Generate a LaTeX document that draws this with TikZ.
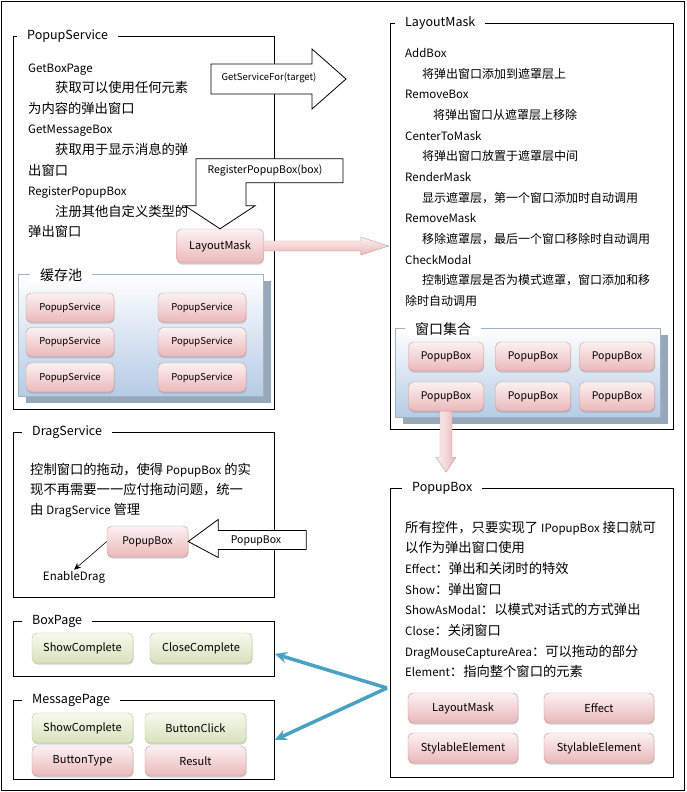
\documentclass[tikz,border=0pt]{standalone}
\usepackage{fontspec}
\setmainfont{Noto Sans CJK SC}
\usetikzlibrary{arrows.meta,shadows}

\definecolor{pinktop}{HTML}{FCF1F1}
\definecolor{pinkbot}{HTML}{EBB8BA}
\definecolor{pinkline}{HTML}{C49A9C}
\definecolor{greentop}{HTML}{F7F9EE}
\definecolor{greenbot}{HTML}{D6E2BB}
\definecolor{greenline}{HTML}{B3C19B}
\definecolor{poolbot}{HTML}{B5CBE5}
\definecolor{poolline}{HTML}{9FB3C7}
\definecolor{poolshadow}{HTML}{97A8BA}
\definecolor{tealarrow}{HTML}{47A2C3}

\newcommand{\eng}[1]{{\fontsize{11.5}{13}\selectfont #1}}

\begin{document}
\begin{tikzpicture}[
  x=1pt, y=-1pt,
  grp/.style={draw, line width=0.8pt, inner sep=0pt, anchor=north west},
  grptitle/.style={fill=white, inner xsep=10pt, inner ysep=1pt, anchor=west, font=\fontsize{12.5}{14}\selectfont},
  txt/.style={anchor=base west, inner sep=0pt, font=\fontsize{13.3}{15}\selectfont},
  pool/.style={draw=poolline, top color=white, bottom color=poolbot, inner sep=0pt, anchor=north west,
    drop shadow={shadow xshift=8pt, shadow yshift=-7pt, fill=poolshadow, opacity=1}},
  pinkbox/.style={draw=pinkline, rounded corners=5pt, top color=pinktop, bottom color=pinkbot, inner sep=0pt,
    drop shadow={shadow xshift=0.5pt, shadow yshift=-1.5pt, fill=black!45, opacity=0.4}},
  greenbox/.style={pinkbox, draw=greenline, top color=greentop, bottom color=greenbot},
  hollow/.style={draw, line width=0.8pt, fill=white},
  link/.style={draw=tealarrow, line width=3.5pt, -{Stealth[length=12pt, width=11pt]}}
]
\useasboundingbox (0,0) rectangle (686,792);
\draw[line width=0.8pt] (1,1) rectangle (684,790);

% PopupService
\node[grp, minimum width=261pt, minimum height=373pt] (ps) at (13,36) {};
\node[grptitle] (ps-t) at (17,36) {PopupService};
\foreach \t [count=\i from 0] in {\eng{GetBoxPage}, {\hspace*{27pt}获取可以使用任何元素}, 为内容的弹出窗口, \eng{GetMessageBox}, {\hspace*{27pt}获取用于显示消息的弹}, 出窗口, \eng{RegisterPopupBox}, {\hspace*{27pt}注册其他自定义类型的}, 弹出窗口}
  \node[txt] (ps-\i) at (28,72+20.6*\i) {\t};

\node[pool, minimum width=245pt, minimum height=122pt] (pool) at (18,274) {};
\node[grptitle, font=\fontsize{14}{16}\selectfont] (pool-t) at (30,275) {缓存池};
\foreach \c/\x in {0/70, 1/202}
  \foreach \r/\y in {0/307.5, 1/342, 2/377.5}
    \node[pinkbox, minimum width=88pt, minimum height=29pt, font=\fontsize{9.5}{11}\selectfont] (pool-\c\r) at (\x,\y) {PopupService};

\draw[hollow] (211,64) -- (312,64) -- (312,49) -- (346,79) -- (312,109) -- (312,94) -- (211,94) -- cycle;
\node[font=\fontsize{9.5}{11}\selectfont] (gsf) at (269,78) {GetServiceFor(target)};

\node[pinkbox, minimum width=87pt, minimum height=34pt, font=\fontsize{11}{13}\selectfont] (lm) at (220,246) {LayoutMask};
\draw[hollow] (lm.north) -- ++(-35,-23) -- ++(11,0) -- ++(0,-47) -- ++(147,0) -- ++(0,24) -- ++(-97,0) -- ++(0,23) -- ++(9,0) -- cycle;
\node[font=\fontsize{10.5}{12}\selectfont] (reg) at (265,171) {RegisterPopupBox(box)};
\path[draw=pinkline, top color=pinktop, bottom color=pinkbot] (lm.east) ++(0,-5) -- ++(97,0) -- ++(0,-4) -- ++(28,9) -- ++(-28,9) -- ++(0,-4) -- ++(-97,0) -- cycle;

% DragService
\node[grp, minimum width=261pt, minimum height=165pt] (ds) at (13,432) {};
\node[grptitle] (ds-t) at (22,432) {DragService};
\foreach \t [count=\i from 0] in {控制窗口的拖动，使得 \eng{PopupBox} 的实, 现不再需要一一应付拖动问题，统一, 由 \eng{DragService} 管理}
  \node[txt] (ds-\i) at (30,474+20*\i) {\t};
\node[pinkbox, minimum width=81pt, minimum height=31pt, font=\fontsize{10.5}{12}\selectfont] (dpb) at (147.5,541.5) {PopupBox};
\draw[hollow] (dpb.east) -- ++(30,-22) -- ++(0,11) -- ++(88,0) -- ++(0,19) -- ++(-88,0) -- ++(0,8) -- cycle;
\node[font=\fontsize{10.5}{12}\selectfont] (dpb-in) at (256,541) {PopupBox};
\node[font=\fontsize{11.5}{13}\selectfont, inner sep=1pt] (ed) at (74,577) {EnableDrag};
\draw[-{Stealth[length=7pt, width=6pt]}, line width=0.6pt] (dpb.west) -- (ed.north);

% BoxPage / MessagePage
\node[grp, minimum width=261pt, minimum height=55pt] (bp) at (13,621) {};
\node[grptitle] (bp-t) at (22,621) {BoxPage};
\node[greenbox, minimum width=101pt, minimum height=30pt, font=\fontsize{11}{13}\selectfont] (bp-1) at (82.5,648) {ShowComplete};
\node[greenbox, minimum width=102pt, minimum height=30pt, font=\fontsize{11}{13}\selectfont] (bp-2) at (201,648) {CloseComplete};

\node[grp, minimum width=261pt, minimum height=79pt] (mp) at (13,700) {};
\node[grptitle] (mp-t) at (22,700) {MessagePage};
\node[greenbox, minimum width=101pt, minimum height=30pt, font=\fontsize{11}{13}\selectfont] (mp-1) at (82.5,728) {ShowComplete};
\node[greenbox, minimum width=101pt, minimum height=30pt, font=\fontsize{11}{13}\selectfont] (mp-2) at (195.5,728) {ButtonClick};
\node[pinkbox, minimum width=101pt, minimum height=30pt, font=\fontsize{11}{13}\selectfont] (mp-3) at (82.5,761) {ButtonType};
\node[pinkbox, minimum width=101pt, minimum height=30pt, font=\fontsize{11}{13}\selectfont] (mp-4) at (195.5,761) {Result};

% LayoutMask
\node[grp, minimum width=283pt, minimum height=406pt] (lmg) at (390,23) {};
\node[grptitle] (lmg-t) at (395,23) {LayoutMask};
\foreach \t/\dx [count=\i from 0] in {\eng{AddBox}/0, 将弹出窗口添加到遮罩层上/17, \eng{RemoveBox}/0, 将弹出窗口从遮罩层上移除/28, \eng{CenterToMask}/0, 将弹出窗口放置于遮罩层中间/17, \eng{RenderMask}/0, 显示遮罩层，第一个窗口添加时自动调用/17, \eng{RemoveMask}/0, 移除遮罩层，最后一个窗口移除时自动调用/17, \eng{CheckModal}/0, 控制遮罩层是否为模式遮罩，窗口添加和移/17, 除时自动调用/0}
  \node[txt, font=\fontsize{12}{14}\selectfont] (lmg-\i) at (405+\dx,57.5+20.65*\i) {\t};

\node[pool, minimum width=265pt, minimum height=89pt] (win) at (395,328) {};
\node[grptitle, font=\fontsize{14}{16}\selectfont] (win-t) at (405,329) {窗口集合};
\foreach \c/\x in {0/446, 1/533, 2/617}
  \foreach \r/\y in {0/356.5, 1/396.5}
    \node[pinkbox, minimum width=75pt, minimum height=29pt, font=\fontsize{10.5}{12}\selectfont] (win-\c\r) at (\x,\y) {PopupBox};
\path[draw=pinkline, left color=pinktop, right color=pinkbot] (win-01.south) ++(-6,0) -- ++(0,46) -- ++(-4,0) -- ++(10,15) -- ++(10,-15) -- ++(-4,0) -- ++(0,-46) -- cycle;

% PopupBox
\node[grp, minimum width=283pt, minimum height=289pt] (pbg) at (390,488) {};
\node[grptitle] (pbg-t) at (402,488) {PopupBox};
\foreach \t [count=\i from 0] in {所有控件，只要实现了 \eng{IPopupBox} 接口就可, 以作为弹出窗口使用, \eng{Effect}：弹出和关闭时的特效, \eng{Show}：弹出窗口, \eng{ShowAsModal}：以模式对话式的方式弹出, \eng{Close}：关闭窗口, \eng{DragMouseCaptureArea}：可以拖动的部分, \eng{Element}：指向整个窗口的元素}
  \node[txt] (pbg-\i) at (405,532+20.7*\i) {\t};
\node[pinkbox, minimum width=110pt, minimum height=30pt, font=\fontsize{11}{13}\selectfont] (pbg-lm) at (463,708) {LayoutMask};
\node[pinkbox, minimum width=110pt, minimum height=30pt, font=\fontsize{11}{13}\selectfont] (pbg-ef) at (599,708) {Effect};
\node[pinkbox, minimum width=110pt, minimum height=30pt, font=\fontsize{11}{13}\selectfont] (pbg-s1) at (463,748) {StylableElement};
\node[pinkbox, minimum width=110pt, minimum height=30pt, font=\fontsize{11}{13}\selectfont] (pbg-s2) at (599,748) {StylableElement};

\coordinate (fork) at (387,688);
\draw[link] (fork) -- ([yshift=-5pt]bp.east);
\draw[link] (fork) -- (mp.east);

\end{tikzpicture}
\end{document}
